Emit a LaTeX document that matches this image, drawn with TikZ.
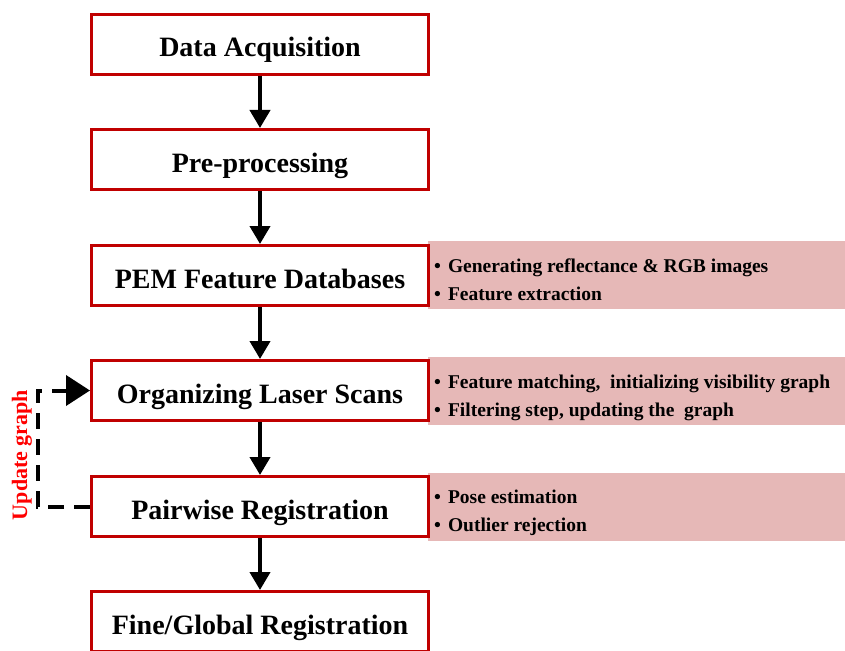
\documentclass[tikz,border=0pt]{standalone}
\usepackage{fontspec}
\setmainfont{Liberation Serif}
\usepackage{tikz}
\usetikzlibrary{arrows.meta,positioning}
\definecolor{boxred}{RGB}{192,0,0}
\definecolor{notepink}{RGB}{230,184,183}
\newcommand{\notebullet}{\textbullet\hspace{7pt}}

\begin{document}
\begin{tikzpicture}[x=1pt,y=-1pt,
    stage/.style={draw=boxred,line width=3pt,fill=white,minimum width=337pt,minimum height=60pt,
        inner sep=0pt,text height=28pt,text depth=3pt,font=\fontsize{28}{30}\selectfont\bfseries},
    note/.style={fill=notepink,minimum width=417pt,minimum height=68pt,anchor=west,inner sep=0pt},
    notetext/.style={anchor=base west,inner sep=0pt,font=\fontsize{19.5}{24}\selectfont\bfseries},
    flow/.style={line width=4pt,-{Triangle[length=18pt,width=20pt]}}]
    \clip (0,0) rectangle (845,650);

    % notes behind the stages
    \node[note] (pemnote) at (428,275) {};
    \node[note] (orgnote) at (428,391) {};
    \node[note] (pairnote) at (428,507) {};

    \node[notetext] (pemA) at (434,272) {\notebullet Generating reflectance \& RGB images};
    \node[notetext] (pemB) at (434,300) {\notebullet Feature extraction};
    \node[notetext] (orgA) at (434,388) {\notebullet Feature matching,\ \ initializing visibility graph};
    \node[notetext] (orgB) at (434,416) {\notebullet Filtering step, updating the\ \ graph};
    \node[notetext] (pairA) at (434,503) {\notebullet Pose estimation};
    \node[notetext] (pairB) at (434,531) {\notebullet Outlier rejection};

    % stages
    \node[stage] (acq) at (260,44.5) {Data Acquisition};
    \node[stage] (pre) at (260,159.5) {Pre-processing};
    \node[stage] (pem) at (260,275.5) {PEM Feature Databases};
    \node[stage] (org) at (260,390.5) {Organizing Laser Scans};
    \node[stage] (pair) at (260,506.5) {Pairwise Registration};
    \node[stage] (fine) at (260,621.5) {Fine/Global Registration};

    \draw[flow] (acq) -- (pre);
    \draw[flow] (pre) -- (pem);
    \draw[flow] (pem) -- (org);
    \draw[flow] (org) -- (pair);
    \draw[flow] (pair) -- (fine);

    % feedback loop
    \draw[line width=4pt,dash pattern=on 16pt off 10pt,-{Triangle[length=24pt,width=30pt]}]
        (pair.west) -- ++(-52,0) |- (org.west);
    \node[rotate=90,text=red,font=\fontsize{22}{24}\selectfont\bfseries] (upd) at (22,455) {Update graph};
\end{tikzpicture}
\end{document}
